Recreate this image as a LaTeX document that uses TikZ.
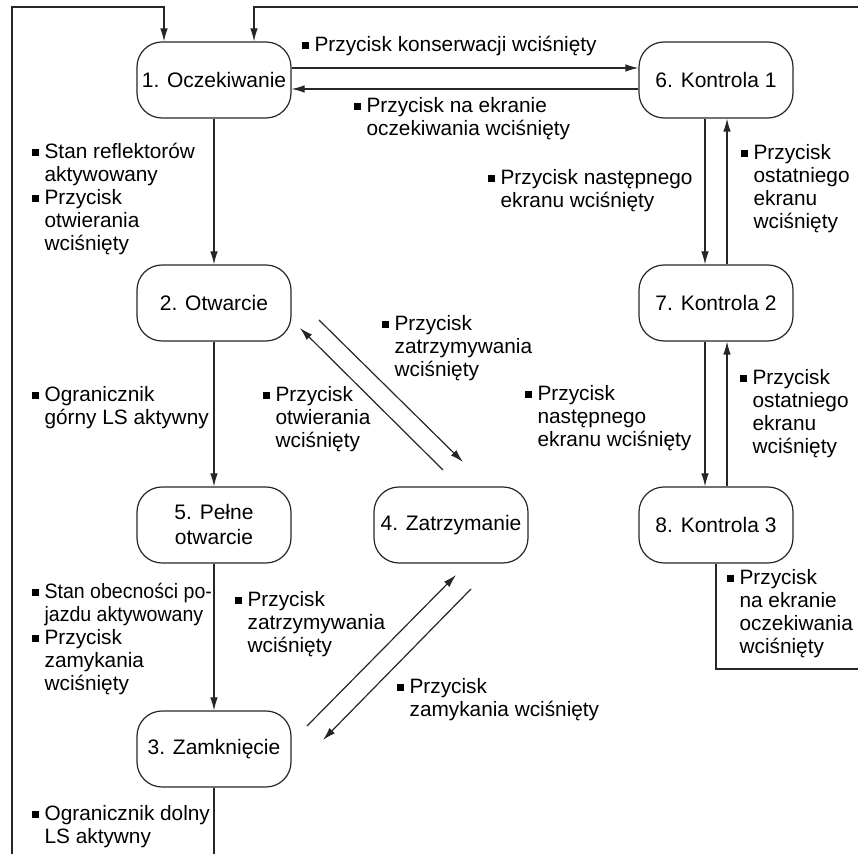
\documentclass[tikz,border=0pt]{standalone}
\usepackage{fontspec}
\setmainfont{Liberation Sans}
\usepackage{graphicx}
\usetikzlibrary{arrows.meta}

\newcommand{\kw}{\rule[1.7pt]{3.1pt}{3.1pt}}
\newcommand{\opis}[1]{\begin{tabular}[t]{@{}l@{\hspace{3pt}}l@{}}#1\end{tabular}}
\newcommand{\waski}[1]{\scalebox{0.94}[1]{#1}}

\begin{document}
\begin{tikzpicture}[x=0.5pt, y=-0.5pt, >={Latex[length=6.5pt, width=3.8pt]},
    stan/.style={draw=black!85, line width=0.6pt, rounded corners=12.5pt, minimum width=77pt, minimum height=38pt, align=center, inner sep=2pt, font=\fontsize{10.5}{12.5}\selectfont},
    opisy/.style={anchor=base west, inner sep=0pt, font=\fontsize{10.4}{11.5}\selectfont},
    linia/.style={draw=black!85, line width=0.6pt}]
    \useasboundingbox (0,0) rectangle (858,854);
    \clip (0,0) rectangle (858,854);

    % Define states
    \node[stan] (n1) at (214,80) {1. Oczekiwanie};
    \node[stan] (n6) at (716,80) {6. Kontrola 1};
    \node[stan] (n2) at (214,303) {2. Otwarcie};
    \node[stan] (n7) at (716,303) {7. Kontrola 2};
    \node[stan] (n5) at (214,525) {5. Pełne\\otwarcie};
    \node[stan] (n4) at (451,525) {4. Zatrzymanie};
    \node[stan] (n8) at (716,525) {8. Kontrola 3};
    \node[stan] (n3) at (214,749) {3. Zamknięcie};

    % Free ends of the diagonal and outer lines
    \coordinate (a1) at (319,320); \coordinate (a2) at (463,462);
    \coordinate (b1) at (443,470); \coordinate (b2) at (300,328);
    \coordinate (c1) at (307,726); \coordinate (c2) at (456,575);
    \coordinate (d1) at (471,589); \coordinate (d2) at (323,740);
    \coordinate (ld) at (12,880); \coordinate (lg) at (12,7);
    \coordinate (pd) at (880,669); \coordinate (pg) at (880,7);

    % Draw transitions
    \draw[linia, ->] ([yshift=6pt]n1.east) -- ([yshift=6pt]n6.west); % Edge 1 -> 6
    \draw[linia, ->] ([yshift=-4.5pt]n6.west) -- ([yshift=-4.5pt]n1.east); % Edge 6 -> 1
    \draw[linia, ->] (n1) -- (n2); % Edge 1 -> 2
    \draw[linia, ->] (n2) -- (n5); % Edge 2 -> 5
    \draw[linia, ->] (n5) -- (n3); % Edge 5 -> 3
    \draw[linia, ->] ([xshift=-5.5pt]n6.south) -- ([xshift=-5.5pt]n7.north); % Edge 6 -> 7
    \draw[linia, ->] ([xshift=5.5pt]n7.north) -- ([xshift=5.5pt]n6.south); % Edge 7 -> 6
    \draw[linia, ->] ([xshift=-5.5pt]n7.south) -- ([xshift=-5.5pt]n8.north); % Edge 7 -> 8
    \draw[linia, ->] ([xshift=5.5pt]n8.north) -- ([xshift=5.5pt]n7.south); % Edge 8 -> 7
    \draw[linia, ->] (a1) -- (a2); % Edge 2 -> 4
    \draw[linia, ->] (b1) -- (b2); % Edge 4 -> 2
    \draw[linia, ->] (c1) -- (c2); % Edge 3 -> 4
    \draw[linia, ->] (d1) -- (d2); % Edge 4 -> 3
    \draw[linia, ->] (n3.south) |- (ld) -- (lg) -| ([xshift=-25pt]n1.north); % Edge 3 -> 1
    \draw[linia, ->] (n8.south) |- (pd) -- (pg) -| ([xshift=20pt]n1.north); % Edge 8 -> 1

    % Conditions
    \node[opisy] (o16) at (302,52) {\opis{\kw & Przycisk konserwacji wciśnięty}};
    \node[opisy] (o61) at (354,113) {\opis{\kw & Przycisk na ekranie\\ & oczekiwania wciśnięty}};
    \node[opisy] (o12) at (32,159) {\opis{\kw & Stan reflektorów\\ & aktywowany\\ \kw & Przycisk\\ & otwierania\\ & wciśnięty}};
    \node[opisy] (o67) at (488,185) {\opis{\kw & Przycisk następnego\\ & ekranu wciśnięty}};
    \node[opisy] (o76) at (741,160) {\opis{\kw & Przycisk\\ & ostatniego\\ & ekranu\\ & wciśnięty}};
    \node[opisy] (o24) at (382,331) {\opis{\kw & Przycisk\\ & zatrzymywania\\ & wciśnięty}};
    \node[opisy] (o42) at (263,402) {\opis{\kw & Przycisk\\ & otwierania\\ & wciśnięty}};
    \node[opisy] (o25) at (32,402) {\opis{\kw & Ogranicznik\\ & górny LS aktywny}};
    \node[opisy] (o78) at (525,401) {\opis{\kw & Przycisk\\ & następnego\\ & ekranu wciśnięty}};
    \node[opisy] (o87) at (740,385) {\opis{\kw & Przycisk\\ & ostatniego\\ & ekranu\\ & wciśnięty}};
    \node[opisy] (o53) at (32,599) {\opis{\kw & \waski{Stan obecności po-}\\ & \waski{jazdu aktywowany}\\ \kw & Przycisk\\ & zamykania\\ & wciśnięty}};
    \node[opisy] (o34) at (235,607) {\opis{\kw & Przycisk\\ & zatrzymywania\\ & wciśnięty}};
    \node[opisy] (o43) at (397,694) {\opis{\kw & Przycisk\\ & zamykania wciśnięty}};
    \node[opisy] (o3) at (32,821) {\opis{\kw & Ogranicznik dolny\\ & LS aktywny}};
    \node[opisy] (o81) at (727,585) {\opis{\kw & Przycisk\\ & na ekranie\\ & oczekiwania\\ & wciśnięty}};
\end{tikzpicture}
\end{document}
